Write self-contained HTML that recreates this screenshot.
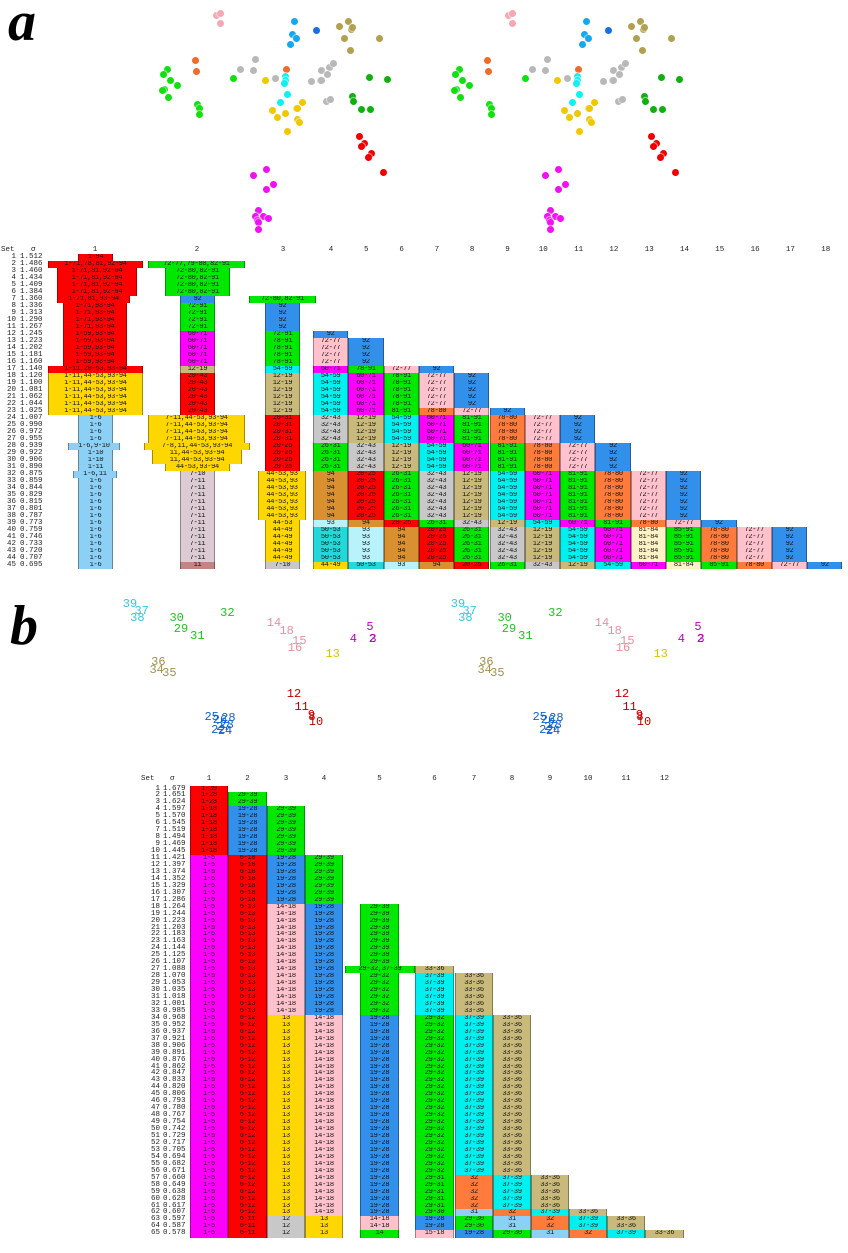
<!DOCTYPE html>
<html><head><meta charset="utf-8">
<style>
html,body{margin:0;padding:0;background:#fff;}
#root{position:relative;width:848px;height:1253px;overflow:hidden;font-family:"Liberation Mono",monospace;}
.c{position:absolute;box-sizing:border-box;border-left:1px solid rgba(0,0,0,.35);border-right:1px solid rgba(0,0,0,.35);font-size:7px;line-height:7px;text-align:center;color:#111;overflow:hidden;white-space:nowrap;letter-spacing:-0.3px}
.t{position:absolute;font-size:7.5px;line-height:7px;color:#222;white-space:nowrap}
.d{position:absolute;width:7px;height:7px;border-radius:50%;box-shadow:0 0 1px 1px rgba(255,255,255,.6)}
.n{position:absolute;font-size:12px;line-height:12px;white-space:nowrap;transform:translate(-50%,-50%)}
.big{position:absolute;font-family:"Liberation Serif",serif;font-weight:bold;font-style:italic;font-size:56px;line-height:56px}
</style></head><body><div id="root">
<div class="big" style="left:8px;top:-6px">a</div>
<div class="big" style="left:10px;top:598px">b</div>
</div>
<script>
var root=document.getElementById('root');
function el(cls,st,txt){var e=document.createElement('div');e.className=cls;e.setAttribute('style',st);if(txt!==undefined)e.textContent=txt;root.appendChild(e);return e;}
var K={R:'#ff0000',G:'#00e800',B:'#3390ea',M:'#ff00ff',Y:'#ffd700',T:'#c9b97a',C:'#00f0f0',S:'#c8c8c8',P:'#ffc2cc',O:'#ff7b3c',LB:'#8dd0f6',LC:'#b8f2fb',BR:'#d89030',LY:'#fff2c4',RO:'#c48484',MV:'#dccbd3',TC:'#22d8d8'};
/* ---------- scatter a ---------- */
var dots=[['P',200,45],['P',210,40],['P',212,70],['B',433,65],['B',428,102],['B',440,115],['B',420,132],['B2',500,91],
['T',568,80],['T',595,65],['T',605,88],['T',608,82],['T',582,114],['T',600,152],['T',688,116],
['O',135,180],['O',138,215],['O',409,207],
['G',53,207],['G',40,222],['G',60,241],['G',83,255],['G',42,268],['G',38,272],['G',54,293],['G',142,312],['G',148,325],['G',149,342],['G',250,236],
['S',316,178],['S',271,208],['S',310,210],['S',375,234],['S',515,212],['S',538,203],['S',550,190],['S',532,223],['S',483,245],['S',510,242],['S',515,240],['S',530,303],['S',540,298],
['C',406,228],['C',406,240],['C',403,250],['C',412,283],['C',390,308],
['Y',345,240],['Y',457,307],['Y',368,330],['Y',440,326],['Y',443,326],['Y',406,341],['Y',383,351],['Y',443,357],['Y',447,368],['Y',413,395],
['DG',658,232],['DG',713,237],['DG',607,290],['DG',611,303],['DG',633,327],['DG',660,327],
['R',628,410],['R',643,430],['R',633,438],['R',663,461],['R',655,473],['R',701,518],
['M',349,507],['M',310,527],['M',371,553],['M',349,568],['M',325,631],['M',316,648],['M',341,649],['M',355,654],['M',323,660],['M',325,668],['M',326,687]];
var dc={P:'#f4a8b4',B:'#14a8f0',B2:'#1670e0',T:'#b0a050',O:'#f06a28',G:'#10e010',S:'#b8b8b8',C:'#10f0f0',Y:'#f0c800',DG:'#10b010',R:'#f00000',M:'#f010f0'};
[0,292].forEach(function(sh){dots.forEach(function(d){var x=150+d[1]/3+sh-3.5,y=d[2]/3-3.5;el('d','left:'+x+'px;top:'+y+'px;background:'+dc[d[0]]);});});
/* ---------- scatter b ---------- */
var nums=[['39',60,42,'#30c8e0'],['37',95,62,'#30c8e0'],['38',82,85,'#30c8e0'],
['30',200,85,'#20c020'],['29',213,118,'#20c020'],['31',262,138,'#20c020'],['32',352,68,'#20c020'],
['14',492,98,'#e890a0'],['18',530,122,'#e890a0'],['15',568,152,'#e890a0'],['16',555,175,'#e890a0'],
['13',668,192,'#e0c000'],['4',730,147,'#c000c0'],['5',780,112,'#c000c0'],['2',787,147,'#c000c0'],['3',789,148,'#c000c0'],
['36',145,215,'#a09050'],['34',140,240,'#a09050'],['35',178,250,'#a09050'],
['12',552,313,'#c00000'],['11',575,350,'#c00000'],['9',604,375,'#e00000'],['8',606,382,'#c00000'],['10',618,395,'#c00000'],
['25',305,382,'#1060d0'],['26',330,390,'#1060d0'],['28',355,385,'#1060d0'],['23',350,405,'#1060d0'],['27',340,410,'#1060d0'],['22',325,420,'#1060d0'],['24',345,422,'#1060d0']];
[0,328].forEach(function(sh){nums.forEach(function(n){el('n','left:'+(110+n[1]/3+sh)+'px;top:'+(590+n[2]/3)+'px;color:'+n[3],n[0]);});});
/* ---------- table a ---------- */
var sa=[1.512,1.486,1.460,1.434,1.409,1.384,1.360,1.336,1.313,1.290,1.267,1.245,1.223,1.202,1.181,1.160,1.140,1.120,1.100,1.081,1.062,1.044,1.025,1.007,0.990,0.972,0.955,0.939,0.922,0.906,0.890,0.875,0.859,0.844,0.829,0.815,0.801,0.787,0.773,0.759,0.746,0.733,0.720,0.707,0.695];
var TA=254,PA=7;
el('t','left:1px;top:247px','Set');el('t','left:31px;top:247px','σ');
var hx=[95,197,283];for(var k=4;k<=18;k++)hx.push(331+(k-4)*35.3);
hx.forEach(function(x,i){el('t','left:'+(x-4)+'px;top:247px;width:8px;text-align:center',String(i+1));});
sa.forEach(function(s,i){var y=TA+i*PA;el('t','left:0px;top:'+y+'px;width:16px;text-align:right',String(i+1));el('t','left:20px;top:'+y+'px',s.toFixed(3));});
function blk(r0,r1,x0,x1,c,lab,top,p){for(var r=r0;r<=r1;r++){el('c','left:'+x0+'px;top:'+(top+(r-1)*p)+'px;width:'+(x1-x0)+'px;height:'+(p+0.3)+'px;line-height:'+p+'px;background:'+K[c],lab);}}
var A=[[1,1,78,113,'R','1-94'],[2,2,48,143,'R','1-71,78,81,92-94'],[3,6,57,137,'R','1-71,81,92-94'],[7,7,57,130,'R','1-71,81,93-94'],[8,11,63,127,'R','1-71,93-94'],[12,16,63,127,'R','1-59,93-94'],[17,17,48,143,'R','1-11,20-53,93-94'],[18,23,48,143,'Y','1-11,44-53,93-94'],[24,27,78,113,'LB','1-6'],[28,28,68,120,'LB','1-6,9-10'],[29,30,78,113,'LB','1-10'],[31,31,78,113,'LB','1-11'],[32,32,73,117,'LB','1-6,11'],[33,45,78,113,'LB','1-6'],
[2,2,148,245,'G','72-77,79-80,82-91'],[3,6,165,230,'G','72-80,82-91'],[7,7,180,215,'B','92'],[8,11,180,215,'G','72-91'],[12,16,180,215,'M','60-71'],[17,17,180,215,'T','12-19'],[18,23,180,215,'R','20-43'],[24,27,148,245,'Y','7-11,44-53,93-94'],[28,28,144,250,'Y','7-8,11,44-53,93-94'],[29,30,152,242,'Y','11,44-53,93-94'],[31,31,165,230,'Y','44-53,93-94'],[32,32,180,215,'MV','7-10'],[33,44,180,215,'MV','7-11'],[45,45,180,215,'RO','11'],
[7,7,249,316,'G','72-80,82-91'],[8,11,265,300,'B','92'],[12,12,265,300,'G','72-91'],[13,16,265,300,'G','78-91'],[17,17,265,300,'C','54-59'],[18,23,265,300,'T','12-19'],[24,27,265,300,'R','20-31'],[28,31,265,300,'R','20-25'],[32,38,258,306,'Y','44-53,93'],[39,39,265,300,'Y','44-53'],[40,44,265,300,'Y','44-49'],[45,45,265,300,'S','7-10']];
A.forEach(function(b){blk(b[0],b[1],b[2],b[3],b[4],b[5],TA,PA);});
var Cc='C',L={R:'20-25',G26:'26-31',S:'32-43',T:'12-19',C:'54-59',M:'60-71',G81:'81-91',O:'78-80',P:'72-77',B:'92'};
var seqA=[[12,12,[['B','92']]],[13,16,[['P','72-77'],['B','92']]],[17,17,[['M','60-71'],['G','78-91'],['P','72-77'],['B','92']]],
[18,22,[['C','54-59'],['M','60-71'],['G','78-91'],['P','72-77'],['B','92']]],
[23,23,[['C','54-59'],['M','60-71'],['G','81-91'],['O','78-80'],['P','72-77'],['B','92']]]];
var tail=[['S','32-43'],['T','12-19'],['C','54-59'],['M','60-71'],['G','81-91'],['O','78-80'],['P','72-77'],['B','92']];
seqA.push([24,27,tail]);
seqA.push([28,31,[['G','26-31']].concat(tail)]);
seqA.push([32,38,[['BR','94'],['R','20-25'],['G','26-31']].concat(tail)]);
seqA.push([39,39,[['LC','93'],['BR','94'],['R','20-25'],['G','26-31']].concat(tail)]);
var t2=[['S','32-43'],['T','12-19'],['C','54-59'],['M','60-71'],['LY','81-84'],['G','85-91'],['O','78-80'],['P','72-77'],['B','92']];
seqA.push([40,44,[['TC','50-53'],['LC','93'],['BR','94'],['R','20-25'],['G','26-31']].concat(t2)]);
seqA.push([45,45,[['Y','44-49'],['TC','50-53'],['LC','93'],['BR','94'],['R','20-25'],['G','26-31']].concat(t2)]);
seqA.forEach(function(s){s[2].forEach(function(c,j){var x0=313+j*35.3;blk(s[0],s[1],x0,x0+35.3,c[0],c[1],TA,PA);});});
/* ---------- table b ---------- */
var sb=[1.679,1.651,1.624,1.597,1.570,1.545,1.519,1.494,1.469,1.445,1.421,1.397,1.374,1.352,1.329,1.307,1.286,1.264,1.244,1.223,1.203,1.183,1.163,1.144,1.125,1.107,1.088,1.070,1.053,1.035,1.018,1.001,0.985,0.968,0.952,0.937,0.921,0.906,0.891,0.876,0.862,0.847,0.833,0.820,0.806,0.793,0.780,0.767,0.754,0.742,0.729,0.717,0.705,0.694,0.682,0.671,0.660,0.649,0.638,0.628,0.617,0.607,0.597,0.587,0.578];
var TB=785.5,PB=6.95;
el('t','left:141px;top:776px','Set');el('t','left:170px;top:776px','σ');
var cx=[[190,228],[228,267],[267,305],[305,343],[360,399],[415,454],[455,493],[493,531],[531,569],[569,607],[607,645],[645,684]];
cx.forEach(function(c,i){var m=(c[0]+c[1])/2;el('t','left:'+(m-6)+'px;top:776px;width:12px;text-align:center',String(i+1));});
sb.forEach(function(s,i){var y=TB+i*PB;el('t','left:140px;top:'+y+'px;width:20px;text-align:right',String(i+1));el('t','left:163px;top:'+y+'px',s.toFixed(3));});
var Bb=[[1,[[1,1,'R','1-39'],[2,3,'R','1-28'],[4,10,'R','1-18'],[11,65,'M','1-5']]],
[2,[[2,3,'G','29-39'],[4,10,'B','19-28'],[11,17,'R','6-18'],[18,33,'R','6-13'],[34,62,'R','6-12'],[63,65,'R','6-11']]],
[3,[[4,10,'G','29-39'],[11,17,'B','19-28'],[18,33,'P','14-18'],[34,62,'Y','13'],[63,65,'S','12']]],
[4,[[11,17,'G','29-39'],[18,33,'B','19-28'],[34,62,'P','14-18'],[63,65,'Y','13']]],
[5,[[18,26,'G','29-39'],[28,33,'G','29-32'],[34,62,'B','19-28'],[63,64,'P','14-18'],[65,65,'G','14']]],
[6,[[27,27,'T','33-36'],[28,33,'C','37-39'],[34,56,'G','29-32'],[57,61,'G','29-31'],[62,62,'G','29-30'],[63,64,'B','19-28'],[65,65,'P','15-18']]],
[7,[[28,33,'T','33-36'],[34,56,'C','37-39'],[57,61,'O','32'],[62,62,'LB','31'],[63,64,'G','29-30'],[65,65,'B','19-28']]],
[8,[[34,56,'T','33-36'],[57,61,'C','37-39'],[62,62,'O','32'],[63,64,'LB','31'],[65,65,'G','29-30']]],
[9,[[57,61,'T','33-36'],[62,62,'C','37-39'],[63,64,'O','32'],[65,65,'LB','31']]],
[10,[[62,62,'T','33-36'],[63,64,'C','37-39'],[65,65,'O','32']]],
[11,[[63,64,'T','33-36'],[65,65,'C','37-39']]],
[12,[[65,65,'T','33-36']]]];
Bb.forEach(function(c){var x=cx[c[0]-1];c[1].forEach(function(b){blk(b[0],b[1],x[0],x[1],b[2],b[3],TB,PB);});});
blk(27,27,345,415,'G','29-32,37-39',TB,PB);
</script>
</body></html>
